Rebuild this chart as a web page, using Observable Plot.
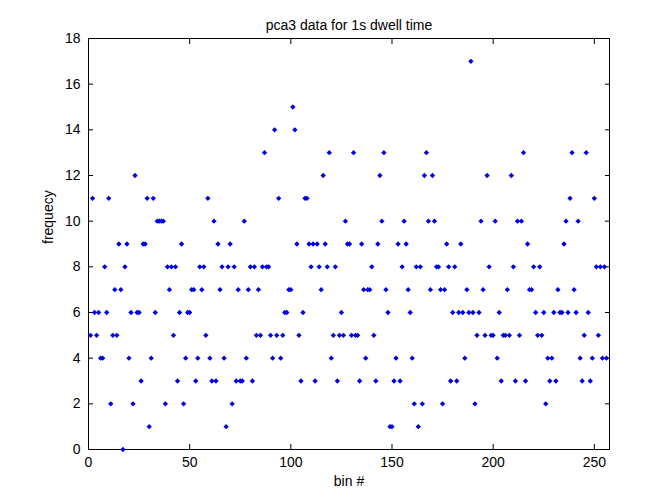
<!DOCTYPE html>
<html><head><meta charset="utf-8">
<script src="https://cdn.jsdelivr.net/npm/d3@7"></script>
<script src="https://cdn.jsdelivr.net/npm/@observablehq/plot@0.6"></script>
<style>body{margin:0;background:#fff} #chart svg{font-family:"Liberation Sans",Arial,sans-serif}</style>
</head><body><div id="chart"></div>
<script>
const titleText = "pca3 data for 1s dwell time";
const xLabel = "bin #";
const yLabel = "frequecy";
const xTicks = [0, 50, 100, 150, 200, 250];
const yTicks = [0, 2, 4, 6, 8, 10, 12, 14, 16, 18];
const bins = d3.range(1, 257);
const frequency = [
  5,11,6,5,6,4,4,8,6,11, 2,5,7,5,9,7,0,8,9,4,
  6,2,12,6,6,3,9,9,11,1, 4,11,6,10,10,10,10,2,8,7,
  8,5,8,3,6,9,2,4,6,6, 7,7,3,4,8,7,8,5,11,4,
  3,10,3,9,7,8,4,1,8,9, 2,8,3,7,3,3,10,4,7,8,
  3,8,5,7,5,8,13,8,8,5, 4,14,5,11,4,5,6,6,7,7,
  15,14,9,5,3,6,11,11,9,8, 9,3,9,8,7,12,9,8,13,4,
  5,8,3,5,6,5,10,9,9,5, 13,5,5,3,9,7,4,7,7,8,
  5,3,9,12,10,13,7,6,1,1, 3,4,9,3,8,10,9,7,6,4,
  2,8,1,8,2,12,13,10,7,12, 10,8,8,7,2,7,9,8,3,6,
  8,3,6,9,6,4,7,6,17,6, 2,5,6,10,7,5,12,8,5,5,
  10,4,6,3,5,5,7,5,12,8, 3,10,5,10,13,3,9,7,7,8,
  6,5,8,5,6,2,4,3,4,6, 3,7,6,6,9,10,6,11,13,7,
  6,10,4,3,5,13,6,3,4,11, 8,5,8,4,8,4
];
const data = bins.map((b, i) => ({bin: b, freq: frequency[i]}));

const plot = Plot.plot({
  width: 672, height: 504,
  marginLeft: 88, marginRight: 63, marginTop: 38, marginBottom: 55,
  style: {fontFamily: '"Liberation Sans", Arial, sans-serif', fontSize: "14px", background: "white", color: "black"},
  x: {domain: [0, 257.5], label: null},
  y: {domain: [0, 18], label: null},
  marks: [
    Plot.frame({stroke: "black"}),
    Plot.axisX(xTicks, {anchor: "bottom", tickSize: 5, dy: -5, tickFormat: () => "", label: null}),
    Plot.axisX(xTicks, {anchor: "bottom", tickSize: 0, tickPadding: 8, label: null}),
    Plot.axisX(xTicks, {anchor: "top", tickSize: 5, dy: 5, tickFormat: () => "", label: null}),
    Plot.axisY(yTicks, {anchor: "left", tickSize: 5, dx: 5, tickFormat: () => "", label: null}),
    Plot.axisY(yTicks, {anchor: "left", tickSize: 0, tickPadding: 8, label: null}),
    Plot.axisY(yTicks, {anchor: "right", tickSize: 5, dx: -5, tickFormat: () => "", label: null}),
    Plot.dot(data, {x: "bin", y: "freq", symbol: "diamond2", r: 2.4, fill: "#0000e6", stroke: "none"}),
    Plot.text([titleText], {frameAnchor: "top", dy: -18, fontSize: 14}),
    Plot.text([xLabel], {frameAnchor: "bottom", dy: 36, fontSize: 14}),
    Plot.text([yLabel], {frameAnchor: "left", dx: -40, rotate: -90, fontSize: 14})
  ]
});
document.getElementById("chart").appendChild(plot);
</script></body></html>
